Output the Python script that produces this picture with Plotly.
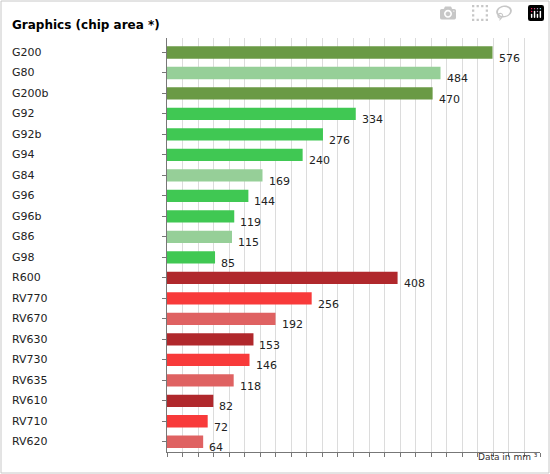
import plotly.graph_objects as go

categories = ["G200","G80","G200b","G92","G92b","G94","G84","G96","G96b","G86","G98",
              "R600","RV770","RV670","RV630","RV730","RV635","RV610","RV710","RV620"]
values = [576,484,470,334,276,240,169,144,119,115,85,408,256,192,153,146,118,82,72,64]
colors = ["#6a9a45","#96cf98","#6a9a45","#40c853","#40c853","#40c853","#96cf98","#40c853","#40c853","#96cf98","#40c853",
          "#b0282c","#f83a3a","#df6262","#b0282c","#f83a3a","#df6262","#b0282c","#f83a3a","#df6262"]

fig = go.Figure(go.Bar(
    y=categories, x=values, orientation="h", marker=dict(color=colors, line=dict(width=0)),
    width=0.6, hoverinfo="skip"))
for c, v in zip(categories, values):
    fig.add_annotation(x=v, y=c, text=str(v), showarrow=False, xanchor="left", yanchor="middle",
                       xshift=4, yshift=-6, font=dict(family="DejaVu Sans", size=11, color="#222"))

fig.update_layout(
    width=550, height=474, margin=dict(l=167, r=10, t=38, b=22),
    plot_bgcolor="white", paper_bgcolor="white", showlegend=False,
    font=dict(family="DejaVu Sans", size=11, color="#222"),
    xaxis=dict(range=[0, 660], dtick=27.5, showticklabels=False, showgrid=True, gridcolor="#dcdcdc",
               ticks="outside", ticklen=4, tickcolor="#777", showline=True, linecolor="#777",
               zeroline=False, fixedrange=True),
    yaxis=dict(autorange="reversed", showticklabels=False, ticks="outside", ticklen=4, tickcolor="#777",
               showline=True, linecolor="#777", fixedrange=True),
    shapes=[dict(type="rect", xref="paper", yref="paper", x0=-166/373, x1=1+9/373, y0=-21/414, y1=1+37/414,
                 line=dict(color="#c8c8c8", width=1))],
)
for c in categories:
    fig.add_annotation(x=-157/373, xref="paper", y=c, yref="y", text=c, showarrow=False, xanchor="left",
                       font=dict(family="DejaVu Sans", size=11, color="#222"))
fig.add_annotation(x=-157/373, xref="paper", y=1+22/414, yref="paper", text="<b>Graphics (chip area *)</b>",
                   showarrow=False, xanchor="left", font=dict(family="DejaVu Sans", size=12, color="#000"))
fig.add_annotation(x=1, xref="paper", y=-12/414, yref="paper", text="Data in mm ³", showarrow=False,
                   xanchor="right", font=dict(family="DejaVu Sans", size=9, color="#333"))
fig.write_html("out.html")

with open("out.html", encoding="utf-8") as f:
    html = f.read()
html = html.replace("<head>", "<head><style>html,body{margin:0;padding:0;overflow:hidden}</style>", 1)
with open("out.html", "w", encoding="utf-8") as f:
    f.write(html)
